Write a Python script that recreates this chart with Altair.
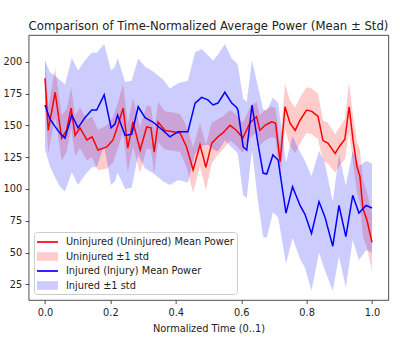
import altair as alt
import pandas as pd

# ---- data ----
red_t = [0.000, 0.010, 0.031, 0.051, 0.066, 0.080, 0.092, 0.107, 0.128, 0.144,
         0.162, 0.189, 0.208, 0.223, 0.239, 0.253, 0.269, 0.291, 0.311, 0.324,
         0.334, 0.346, 0.367, 0.391, 0.413, 0.433, 0.453, 0.474, 0.492, 0.510,
         0.529, 0.544, 0.566, 0.586, 0.605, 0.627, 0.647, 0.657, 0.673, 0.693,
         0.705, 0.719, 0.734, 0.749, 0.765, 0.780, 0.800, 0.816, 0.835, 0.850,
         0.865, 0.887, 0.902, 0.917, 0.930, 0.942, 0.954, 0.963, 0.972, 0.985, 1.000]
red_mean = [187, 146, 176, 140, 146, 163.6, 142, 148, 138.5, 141,
            130.6, 133, 138.5, 150, 163.6, 132, 152.6, 130.6, 148.7, 148,
            129, 152.6, 146, 145, 144, 133, 115, 134.6, 117, 136,
            141, 144, 150, 146, 140, 152, 156.8, 146, 150, 152.8,
            151.7, 121.4, 164.6, 151.8, 146, 154, 162, 161, 157, 138,
            136, 128, 134, 139, 164.6, 138.5, 117.5, 110, 85, 75, 58]
red_std = [18, 18, 19, 18, 17, 16, 16, 16, 16, 16,
           16, 17, 18, 18, 19, 19, 19, 18, 17, 17,
           17, 16, 15, 15, 15, 16, 18, 17, 18, 16,
           14, 13, 12, 12, 12, 12, 12, 12, 12, 12,
           12, 14, 18, 18, 18, 18, 18, 18, 18, 16,
           16, 15, 15, 16, 19, 19, 20, 21, 22, 22, 22]

blue_t = [0.000, 0.015, 0.031, 0.046, 0.061, 0.082, 0.101, 0.122, 0.143, 0.158,
          0.181, 0.202, 0.214, 0.222, 0.245, 0.265, 0.285, 0.306, 0.330, 0.361,
          0.382, 0.407, 0.437, 0.459, 0.479, 0.498, 0.514, 0.529, 0.550, 0.571,
          0.586, 0.590, 0.606, 0.617, 0.633, 0.651, 0.667, 0.678, 0.697, 0.713,
          0.737, 0.757, 0.780, 0.795, 0.815, 0.838, 0.856, 0.880, 0.899, 0.920,
          0.941, 0.960, 0.982, 1.000]
blue_mean = [166, 155, 149, 143.7, 140, 158, 148, 156, 162, 162,
             174, 148, 151, 158, 142, 143, 164.6, 156, 152.6, 146,
             141, 145, 145, 167.5, 172, 170, 166, 167.5, 176, 167.5,
             164, 162, 133, 130.6, 166, 136, 112.5, 111.7, 126.7, 122.7,
             81, 101.7, 87, 80, 65, 90, 78, 55, 87, 62.5,
             95, 81, 87, 85]
blue_std = [35, 37, 40, 42, 42, 45, 45, 45, 45, 45,
            40, 45, 45, 45, 42, 42, 38, 40, 40, 40,
            38, 38, 40, 40, 38, 35, 35, 38, 38, 35,
            35, 35, 38, 38, 35, 45, 50, 50, 45, 45,
            40, 40, 42, 42, 45, 40, 42, 35, 40, 40,
            35, 37, 35, 35]

L_RM = "Uninjured (Uninjured) Mean Power"
L_RB = "Uninjured ±1 std"
L_BM = "Injured (Injury) Mean Power"
L_BB = "Injured ±1 std"
labels = [L_RM, L_RB, L_BM, L_BB]
colors = ["#ff0000", "rgba(255,0,0,0.2)", "#0000ff", "rgba(0,0,255,0.2)"]
THIN = "M-1,-0.12H2V0.12H-1Z"
THICK = "M-1,-0.62H2V0.62H-1Z"
shapes = [THIN, THICK, THIN, THICK]

red_df = pd.DataFrame({"t": red_t, "mean": red_mean,
                       "lo": [m - s for m, s in zip(red_mean, red_std)],
                       "hi": [m + s for m, s in zip(red_mean, red_std)]})
blue_df = pd.DataFrame({"t": blue_t, "mean": blue_mean,
                        "lo": [m - s for m, s in zip(blue_mean, blue_std)],
                        "hi": [m + s for m, s in zip(blue_mean, blue_std)]})

FONT = "DejaVu Sans"
TXT = "#222222"

legend = alt.Legend(orient="none", legendX=5.3, legendY=197, title=None,
                    fillColor="rgba(255,255,255,0.8)", strokeColor="#cccccc",
                    cornerRadius=3, padding=3, labelFont=FONT, labelFontSize=9.8,
                    labelColor=TXT, symbolSize=196, rowPadding=2.5, labelOffset=15,
                    symbolStrokeWidth=0, labelLimit=300)

color_scale = alt.Scale(domain=labels, range=colors)
shape_scale = alt.Scale(domain=labels, range=shapes)

xenc = alt.X("t:Q", scale=alt.Scale(domain=[-0.05, 1.05], nice=False, zero=False),
             axis=alt.Axis(values=[0, 0.2, 0.4, 0.6, 0.8, 1.0], format=".1f",
                           title="Normalized Time (0..1)"))
yscale = alt.Scale(domain=[12.7, 221], nice=False, zero=False)
yaxis = alt.Axis(values=[25, 50, 75, 100, 125, 150, 175, 200], title=None)


def area_layer(df, lab):
    return alt.Chart(df).transform_calculate(label=f"'{lab}'").mark_area(opacity=1).encode(
        x=xenc,
        y=alt.Y("lo:Q", scale=yscale, axis=yaxis),
        y2="hi:Q",
        color=alt.Color("label:N", scale=color_scale, legend=legend),
    )


def line_layer(df, lab):
    return alt.Chart(df).transform_calculate(label=f"'{lab}'").mark_line(strokeWidth=1.5).encode(
        x=xenc,
        y=alt.Y("mean:Q", scale=yscale, axis=yaxis),
        color=alt.Color("label:N", scale=color_scale, legend=legend),
    )


legend_layer = alt.Chart(red_df).transform_calculate(label=f"'{L_RM}'").transform_filter(
    "datum.t < -1").mark_point(filled=True, opacity=1).encode(
    x=xenc,
    y=alt.Y("mean:Q", scale=yscale, axis=yaxis),
    color=alt.Color("label:N", scale=color_scale, legend=legend),
    shape=alt.Shape("label:N", scale=shape_scale, legend=legend),
)

chart = alt.layer(
    area_layer(red_df, L_RB),
    area_layer(blue_df, L_BB),
    line_layer(red_df, L_RM),
    line_layer(blue_df, L_BM),
    legend_layer,
).properties(
    width=359.7, height=265,
    title=alt.TitleParams("Comparison of Time-Normalized Average Power (Mean ± Std)",
                          font=FONT, fontSize=11.7, fontWeight="normal", color=TXT,
                          anchor="middle", baseline="alphabetic", offset=-7),
    autosize=alt.AutoSizeParams(type="none"),
    padding={"left": 28.65, "top": 35, "right": 11.65, "bottom": 50},
).configure_view(
    stroke=TXT, strokeWidth=0.8
).configure_axis(
    domain=False, grid=False, tickColor=TXT, tickSize=3.5, tickWidth=0.8,
    labelFont=FONT, labelFontSize=9.8, labelColor=TXT, labelPadding=3.5,
    titleFont=FONT, titleFontSize=9.8, titleColor=TXT, titleFontWeight="normal",
    titlePadding=7,
)

chart.save("out.html", embed_options={"renderer": "svg", "actions": False})
